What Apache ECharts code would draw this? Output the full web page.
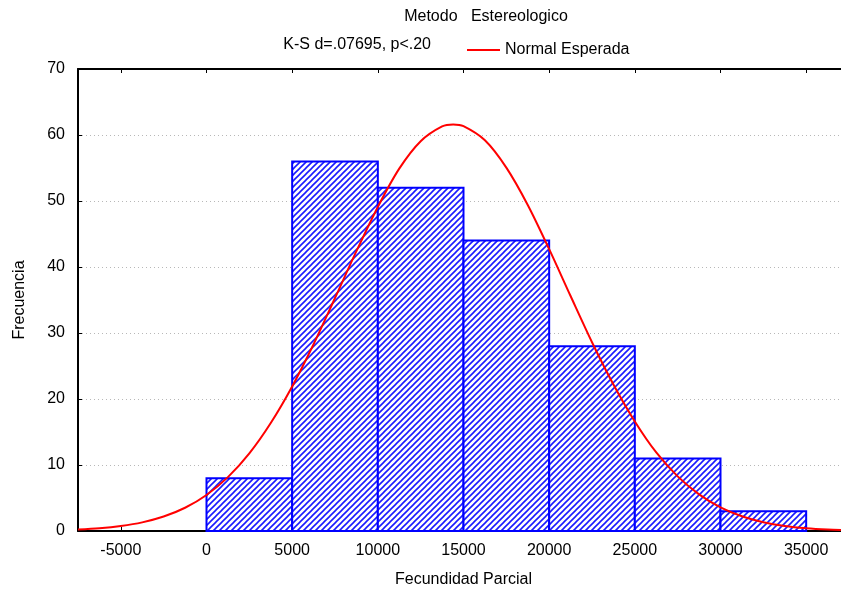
<!DOCTYPE html>
<html>
<head>
<meta charset="utf-8">
<script src="https://cdn.jsdelivr.net/npm/echarts@6/dist/echarts.min.js"></script>
<style>
  html, body { margin: 0; padding: 0; background: #fff; }
  #chart { width: 841px; height: 595px; }
</style>
</head>
<body>
<div id="chart"></div>
<script>
// Histogram bins (Fecundidad Parcial) and observed frequencies
const binStarts = [0, 5000, 10000, 15000, 20000, 25000, 30000];
const binEnds   = [5000, 10000, 15000, 20000, 25000, 30000, 35000];
const counts    = [8, 56, 52, 44, 28, 11, 3];

// Expected normal frequencies (red curve)
const curveX = [-7500, -6250, -5000, -3750, -2500, -1250, 0, 1250, 2500, 3750, 5000, 6250,
                7500, 8750, 10000, 11250, 12500, 13750, 14400, 15000, 16250, 17500, 18750,
                20000, 21250, 22500, 23750, 25000, 26250, 27500, 28750, 30000, 31250, 32500,
                33750, 35000, 36250, 37500];
const curveY = [0.23, 0.42, 0.76, 1.31, 2.19, 3.52, 5.46, 8.16, 11.76, 16.36, 21.9, 28.3,
                35.3, 42.4, 49.1, 54.9, 59.06, 61.3, 61.6, 61.34, 59.2, 55.06, 49.4,
                42.7, 35.6, 28.6, 22.2, 16.6, 11.9, 8.28, 5.55, 3.58, 2.23, 1.34,
                0.77, 0.43, 0.23, 0.12];

// Axis tick labels
const xTicks = [-5000, 0, 5000, 10000, 15000, 20000, 25000, 30000, 35000];
const yTicks = [0, 10, 20, 30, 40, 50, 60, 70];

const titleText = 'Metodo   Estereologico';
const statText = 'K-S d=.07695, p<.20';
const curveName = 'Normal Esperada';

// Diagonal hatch used to fill the bars
function hatchPattern() {
  const c = document.createElement('canvas');
  const s = 6;
  c.width = s; c.height = s;
  const g = c.getContext('2d');
  g.fillStyle = '#ffffff';
  g.fillRect(0, 0, s, s);
  g.strokeStyle = '#1a1aff';
  g.lineWidth = 1.6;
  g.beginPath();
  g.moveTo(-1, s + 1); g.lineTo(s + 1, -1);
  g.moveTo(-1, 1); g.lineTo(1, -1);
  g.moveTo(s - 1, s + 1); g.lineTo(s + 1, s - 1);
  g.stroke();
  return c;
}

const font = 'Liberation Sans, Arial, sans-serif';
const fs = 16;
const chart = echarts.init(document.getElementById('chart'), null, { renderer: 'canvas' });
const pattern = { image: hatchPattern(), repeat: 'repeat' };

const histData = binStarts.map((s, i) => [s, binEnds[i], counts[i]]);
const curveData = curveX.map((x, i) => [x, curveY[i]]);

chart.setOption({
  backgroundColor: '#ffffff',
  animation: false,
  textStyle: { fontFamily: font, color: '#000' },
  // plot box runs a little past the right edge of the canvas
  grid: { left: 78, top: 69, width: 771, height: 462, outerBoundsMode: 'none' },
  graphic: [
    { type: 'text',
      style: { text: titleText, font: fs + 'px ' + font, fill: '#000', x: 486, y: 17, align: 'center', verticalAlign: 'middle' } },
    { type: 'text',
      style: { text: statText, font: fs + 'px ' + font, fill: '#000', x: 431, y: 45, align: 'right', verticalAlign: 'middle' } }
  ],
  legend: {
    data: [curveName],
    left: 462, top: 37,
    icon: 'rect',
    itemWidth: 33, itemHeight: 2, itemGap: 9,
    textStyle: { fontFamily: font, fontSize: fs, color: '#000' }
  },
  xAxis: [{
    type: 'value', min: -7500, max: 37500,
    name: 'Fecundidad Parcial', nameLocation: 'middle', nameGap: 41,
    nameTextStyle: { fontFamily: font, fontSize: fs, color: '#000' },
    axisLine: { onZero: false, lineStyle: { color: '#000', width: 2 } },
    axisTick: { inside: true, length: 4, customValues: xTicks, lineStyle: { color: '#000', width: 1 } },
    axisLabel: { customValues: xTicks, fontFamily: font, fontSize: fs, color: '#000', margin: 12,
                 formatter: v => String(v) },
    splitLine: { show: false }
  }, {
    type: 'value', min: -7500, max: 37500, position: 'top',
    axisLine: { show: true, onZero: false, lineStyle: { color: '#000', width: 2 } },
    axisTick: { show: true, inside: true, length: 4, customValues: xTicks, lineStyle: { color: '#000', width: 1 } },
    axisLabel: { show: false },
    splitLine: { show: false }
  }],
  yAxis: {
    type: 'value', min: 0, max: 70, interval: 10,
    name: 'Frecuencia', nameLocation: 'middle', nameGap: 50, nameRotate: 90,
    nameTextStyle: { fontFamily: font, fontSize: fs, color: '#000' },
    axisLine: { show: true, onZero: false, lineStyle: { color: '#000', width: 2 } },
    axisTick: { show: true, inside: true, length: 4, lineStyle: { color: '#000', width: 1 } },
    axisLabel: { fontFamily: font, fontSize: fs, color: '#000', margin: 13,
                 formatter: v => yTicks.includes(v) ? String(v) : '' },
    splitLine: { show: true, lineStyle: { color: '#b8b8b8', width: 1, type: [1, 3] } }
  },
  series: [{
    type: 'custom',
    name: 'Histograma',
    xAxisIndex: 0, yAxisIndex: 0,
    data: histData,
    encode: { x: [0, 1], y: 2 },
    renderItem: function (params, api) {
      const p0 = api.coord([api.value(0), api.value(2)]);
      const p1 = api.coord([api.value(1), 0]);
      return {
        type: 'rect',
        shape: { x: p0[0], y: p0[1], width: p1[0] - p0[0], height: p1[1] - p0[1] },
        style: { fill: pattern, stroke: '#0000ff', lineWidth: 2 }
      };
    },
    z: 2
  }, {
    type: 'line',
    name: curveName,
    xAxisIndex: 0, yAxisIndex: 0,
    data: curveData,
    symbol: 'none',
    smooth: 0.3,
    lineStyle: { color: '#ff0000', width: 2 },
    itemStyle: { color: '#ff0000' },
    z: 3
  }]
});
</script>
</body>
</html>
